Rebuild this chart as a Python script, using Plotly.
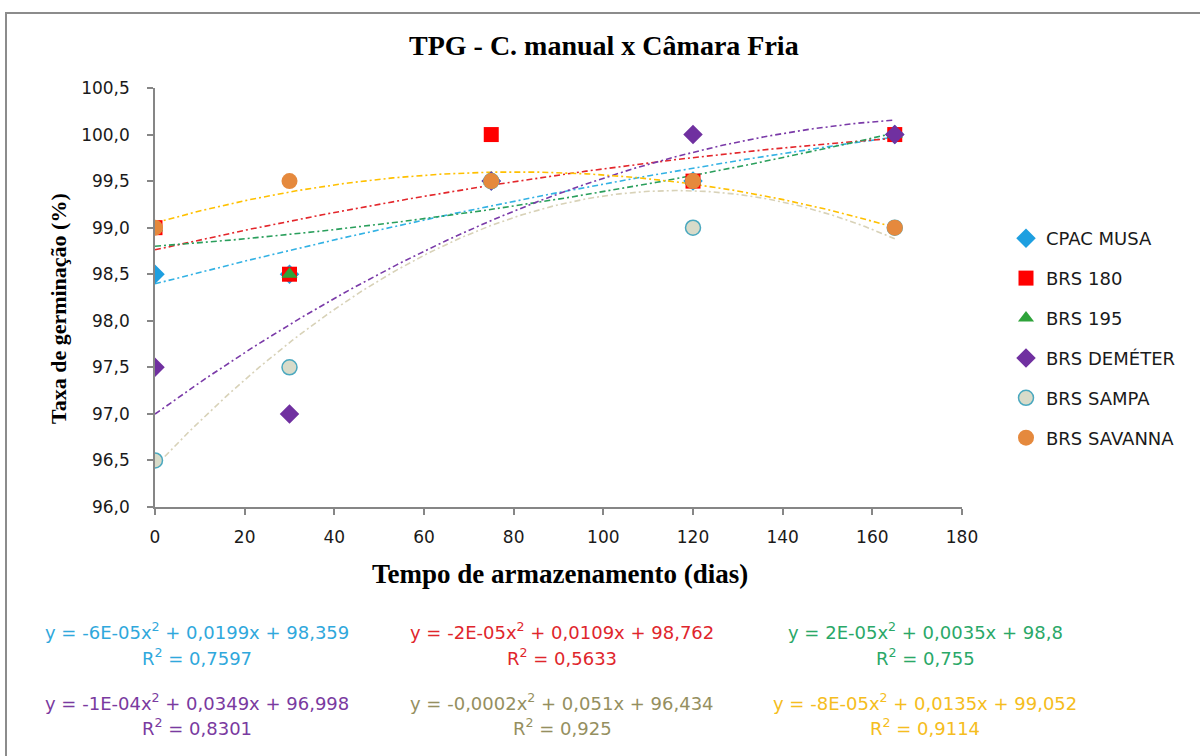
import numpy as np
import plotly.graph_objects as go

# ---- data ----
dias = [0, 30, 75, 120, 165]
series_names = ["CPAC MUSA", "BRS 180", "BRS 195", "BRS DEMÉTER", "BRS SAMPA", "BRS SAVANNA"]
cpac_musa = [98.5, 98.5, 99.5, 99.5, 100.0]
brs_180 = [99.0, 98.5, 100.0, 99.5, 100.0]
brs_195 = [99.0, 98.5, 99.5, 99.5, 100.0]
brs_demeter = [97.5, 97.0, 99.5, 100.0, 100.0]
brs_sampa = [96.5, 97.5, 99.5, 99.0, 99.0]
brs_savanna = [99.0, 99.5, 99.5, 99.5, 99.0]

equations = [
    "y = -6E-05x<sup>2</sup> + 0,0199x + 98,359",
    "y = -2E-05x<sup>2</sup> + 0,0109x + 98,762",
    "y = 2E-05x<sup>2</sup> + 0,0035x + 98,8",
    "y = -1E-04x<sup>2</sup> + 0,0349x + 96,998",
    "y = -0,0002x<sup>2</sup> + 0,051x + 96,434",
    "y = -8E-05x<sup>2</sup> + 0,0135x + 99,052",
]
r2_labels = ["R<sup>2</sup> = 0,7597", "R<sup>2</sup> = 0,5633", "R<sup>2</sup> = 0,755",
             "R<sup>2</sup> = 0,8301", "R<sup>2</sup> = 0,925", "R<sup>2</sup> = 0,9114"]

all_values = [cpac_musa, brs_180, brs_195, brs_demeter, brs_sampa, brs_savanna]

# ---- styles ----
marker_styles = [
    dict(symbol="diamond", size=15, color="#1e9fe0"),
    dict(symbol="square", size=15, color="#ff0000"),
    dict(symbol="triangle-up", size=14, color="#2ea33a"),
    dict(symbol="diamond", size=15, color="#7030a0"),
    dict(symbol="circle", size=15, color="#d8dbc9", line=dict(color="#4aa8bf", width=1.5)),
    dict(symbol="circle", size=16, color="#e5893d"),
]
trend_colors = ["#33b2e4", "#e3262b", "#2a9f5c", "#7a3aa8", "#d8d2b8", "#ffc000"]
label_colors = ["#30a8dc", "#e0262c", "#2aa868", "#7a3aa0", "#958f60", "#f5bd20"]

FONT_SANS = "DejaVu Sans"
FONT_SERIF = "Liberation Serif"

fig = go.Figure()

# trendlines (2nd order polynomial fitted to the data)
xs = np.linspace(min(dias), max(dias), 200)
for vals, col in zip(all_values, trend_colors):
    coef = np.polyfit(dias, vals, 2)
    fig.add_trace(go.Scatter(
        x=xs, y=np.polyval(coef, xs), mode="lines",
        line=dict(color=col, width=1.6, dash="6px,3px,2px,3px"),
        showlegend=False, hoverinfo="skip"))

for i, (name, vals, ms) in enumerate(zip(series_names, all_values, marker_styles)):
    fig.add_trace(go.Scatter(
        x=dias, y=vals, mode="markers", name=name,
        marker=ms, legendgroup=f"g{i}"))

# ---- layout geometry (plot area 155..962 x 88..507) ----
L, R, T, B = 155, 962, 88, 507
W, H = 1200, 756
def px(x):
    return (x - L) / (R - L)
def py(y):
    return (B - y) / (B - T)

annotations = [
    dict(text="<b>TPG - C. manual x Câmara Fria</b>", x=px(604), y=py(46), xref="paper", yref="paper",
         showarrow=False, font=dict(family=FONT_SERIF, size=28, color="#000000"), xanchor="center", yanchor="middle"),
    dict(text="<b>Tempo de armazenamento (dias)</b>", x=px(560), y=py(574), xref="paper", yref="paper",
         showarrow=False, font=dict(family=FONT_SERIF, size=27, color="#000000"), xanchor="center", yanchor="middle"),
    dict(text="<b>Taxa de germinação (%)</b>", x=px(58), y=py(309), xref="paper", yref="paper", textangle=-90,
         showarrow=False, font=dict(family=FONT_SERIF, size=22, color="#000000"), xanchor="center", yanchor="middle"),
]
col_centers = [197, 562, 925]
row_eq = [631, 702]
row_r2 = [657, 727]
for k in range(6):
    r, c = divmod(k, 3)
    annotations.append(dict(text=equations[k], x=px(col_centers[c]), y=py(row_eq[r]), xref="paper", yref="paper",
                            showarrow=False, font=dict(family=FONT_SANS, size=18, color=label_colors[k]),
                            xanchor="center", yanchor="middle"))
    annotations.append(dict(text=r2_labels[k], x=px(col_centers[c]), y=py(row_r2[r]), xref="paper", yref="paper",
                            showarrow=False, font=dict(family=FONT_SANS, size=18, color=label_colors[k]),
                            xanchor="center", yanchor="middle"))

fig.update_layout(
    width=W, height=H,
    margin=dict(l=L, r=W - R, t=T, b=H - B, pad=0),
    paper_bgcolor="white", plot_bgcolor="white",
    separators=",.",
    showlegend=True,
    legend=dict(x=px(1006), y=py(220), xanchor="left", yanchor="top",
                font=dict(family=FONT_SANS, size=18, color="#1a1a1a"),
                tracegroupgap=13.5, itemwidth=30, bgcolor="rgba(0,0,0,0)"),
    xaxis=dict(range=[0, 180], dtick=20, tick0=0, showgrid=False, zeroline=False,
               showline=True, linecolor="#868686", linewidth=1.5,
               ticks="outside", ticklen=6, tickcolor="#868686", tickwidth=1.5,
               ticklabelstandoff=8,
               tickfont=dict(family=FONT_SANS, size=17, color="#1a1a1a")),
    yaxis=dict(range=[96.0, 100.5], dtick=0.5, tick0=96, tickformat=".1f", showgrid=False, zeroline=False,
               showline=True, linecolor="#868686", linewidth=1.5,
               ticks="outside", ticklen=6, tickcolor="#868686", tickwidth=1.5,
               ticklabelstandoff=14,
               tickfont=dict(family=FONT_SANS, size=17, color="#1a1a1a")),
    annotations=annotations,
    shapes=[dict(type="rect", xref="paper", yref="paper",
                 x0=px(6), x1=px(1210), y0=py(770), y1=py(13),
                 line=dict(color="#8c8c8c", width=2), fillcolor="rgba(0,0,0,0)", layer="below")],
)

fig.write_html("out.html", config={"displayModeBar": False},
               post_script="document.body.style.margin='0px';")
